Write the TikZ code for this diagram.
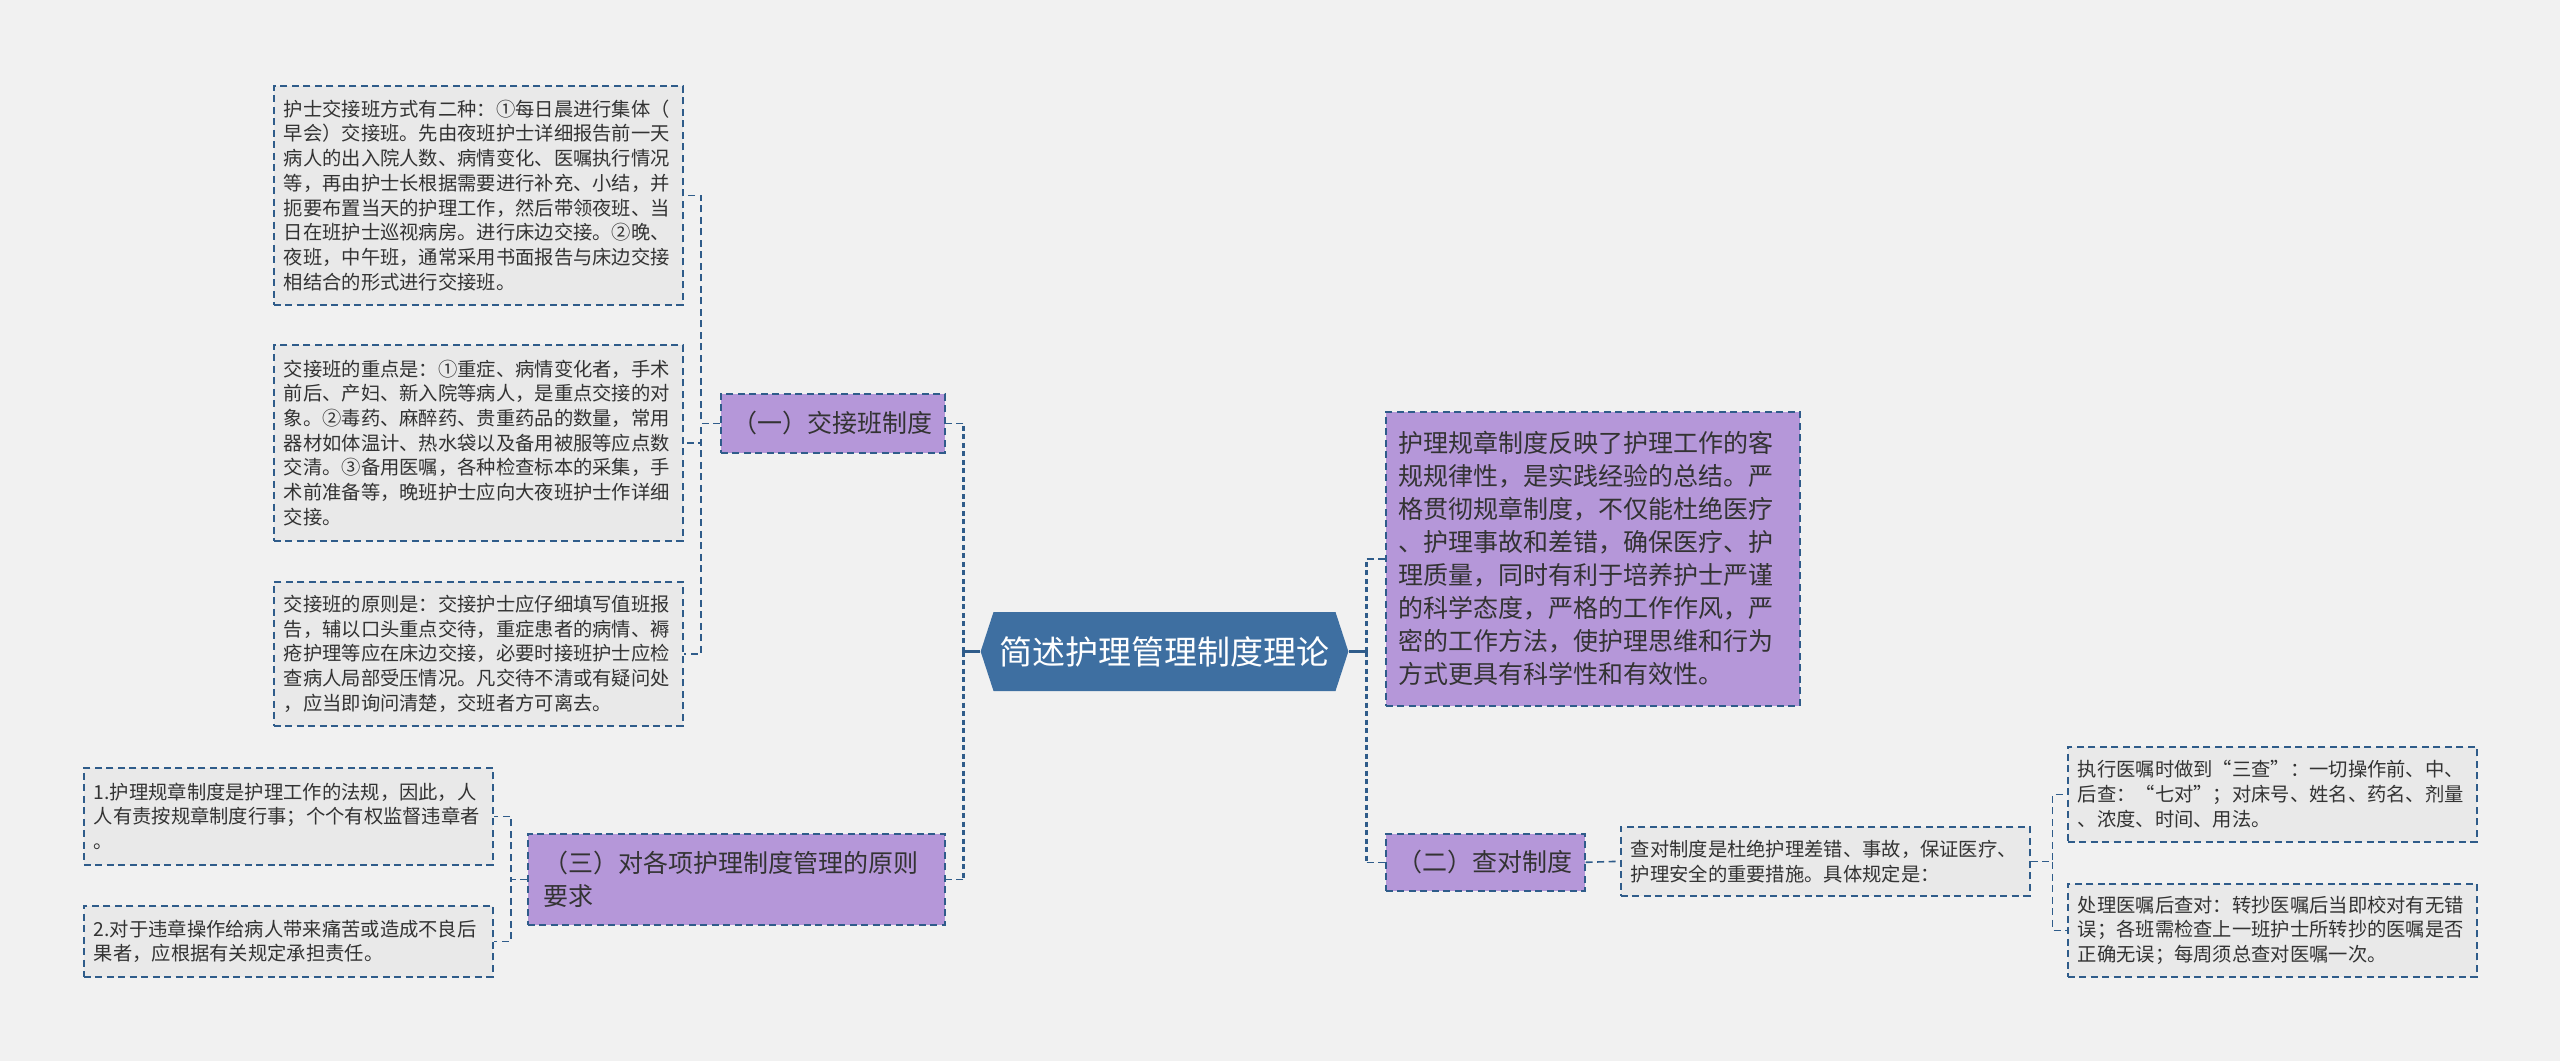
\documentclass[tikz,border=0pt]{standalone}
\usepackage{xcolor}
\usepackage{fontspec}
\setmainfont{Noto Sans CJK SC}
\usepackage{tikz}
\usetikzlibrary{shapes,shapes.symbols,calc,positioning}

\definecolor{bgcol}{RGB}{241,241,241}
\definecolor{linkblue}{RGB}{47,92,138}
\definecolor{rootblue}{RGB}{62,111,161}
\definecolor{lilac}{RGB}{181,151,217}
\definecolor{boxgray}{RGB}{233,233,233}
\definecolor{inkgray}{RGB}{51,51,51}

\begin{document}
\begin{tikzpicture}[x=1pt, y=-1pt,
    boxline/.style={draw=linkblue, line width=1.6pt, dash pattern=on 7pt off 4.5pt},
    leaf/.style={boxline, fill=boxgray, text=inkgray, anchor=north west, align=left,
        inner xsep=10pt, text width=389pt, font=\fontsize{19.3}{24.7}\selectfont},
    topic/.style={boxline, fill=lilac, text=inkgray, anchor=north west,
        font=\fontsize{25}{33}\selectfont},
    rootline/.style={draw=linkblue, line width=2.8pt},
    trunk/.style={draw=linkblue, line width=2.8pt, dash pattern=on 5pt off 3.5pt},
    twig/.style={draw=linkblue, line width=1.6pt, dash pattern=on 7pt off 4.5pt}]

    \fill[bgcol] (0,0) rectangle (2560,1061);

    % centre
    \node[signal, signal to=west and east, signal pointer angle=144, fill=rootblue,
        text=white, font=\fontsize{33}{40}\selectfont, minimum height=79pt,
        inner xsep=6pt] (root) at (1164.5,651.5) {简述护理管理制度理论};

    % left side
    \node[topic, minimum width=224pt, minimum height=59pt] (handsys) at (720,393) {（一）交接班制度};
    \node[topic, align=left, text width=385pt, inner xsep=16pt, minimum height=91pt] (rulesys) at (527,833)
        {（三）对各项护理制度管理的原则\\要求};

    \node[leaf, minimum height=219pt] (modes) at (273,85) {护士交接班方式有二种：①每日晨进行集体（\\
        早会）交接班。先由夜班护士详细报告前一天\\
        病人的出入院人数、病情变化、医嘱执行情况\\
        等，再由护士长根据需要进行补充、小结，并\\
        扼要布置当天的护理工作，然后带领夜班、当\\
        日在班护士巡视病房。进行床边交接。②晚、\\
        夜班，中午班，通常采用书面报告与床边交接\\
        相结合的形式进行交接班。};
    \node[leaf, minimum height=196pt] (keypts) at (273,344) {交接班的重点是：①重症、病情变化者，手术\\
        前后、产妇、新入院等病人，是重点交接的对\\
        象。②毒药、麻醉药、贵重药品的数量，常用\\
        器材如体温计、热水袋以及备用被服等应点数\\
        交清。③备用医嘱，各种检查标本的采集，手\\
        术前准备等，晚班护士应向大夜班护士作详细\\
        交接。};
    \node[leaf, minimum height=144pt] (princ) at (273,581) {交接班的原则是：交接护士应仔细填写值班报\\
        告，辅以口头重点交待，重症患者的病情、褥\\
        疮护理等应在床边交接，必要时接班护士应检\\
        查病人局部受压情况。凡交待不清或有疑问处\\
        ，应当即询问清楚，交班者方可离去。};
    \node[leaf, minimum height=97pt] (rule1) at (83,767) {1.护理规章制度是护理工作的法规，因此，人\\
        人有责按规章制度行事；个个有权监督违章者\\
        。};
    \node[leaf, minimum height=71pt] (rule2) at (83,905) {2.对于违章操作给病人带来痛苦或造成不良后\\
        果者，应根据有关规定承担责任。};

    % right side
    \node[topic, align=left, text width=388pt, inner xsep=13pt, minimum height=294pt] (essence) at (1385,411)
        {护理规章制度反映了护理工作的客\\
        规规律性，是实践经验的总结。严\\
        格贯彻规章制度，不仅能杜绝医疗\\
        、护理事故和差错，确保医疗、护\\
        理质量，同时有利于培养护士严谨\\
        的科学态度，严格的工作作风，严\\
        密的工作方法，使护理思维和行为\\
        方式更具有科学性和有效性。};
    \node[topic, minimum width=199pt, minimum height=57pt] (checksys) at (1385,833) {（二）查对制度};
    \node[leaf, minimum height=69pt] (checkdef) at (1620,826) {查对制度是杜绝护理差错、事故，保证医疗、\\
        护理安全的重要措施。具体规定是：};
    \node[leaf, minimum height=95pt] (orderexec) at (2067,746) {执行医嘱时做到“三查”：一切操作前、中、\\
        后查：“七对”；对床号、姓名、药名、剂量\\
        、浓度、时间、用法。};
    \node[leaf, minimum height=93pt] (orderproc) at (2067,883) {处理医嘱后查对：转抄医嘱后当即校对有无错\\
        误；各班需检查上一班护士所转抄的医嘱是否\\
        正确无误；每周须总查对医嘱一次。};

    % connectors
    \coordinate (lhub) at ($(root.west)+(-17,0)$);
    \coordinate (rhub) at ($(root.east)+(18,0)$);
    \draw[rootline] (root.west) -- (lhub);
    \draw[rootline] (root.east) -- (rhub);
    \draw[trunk] (lhub) -- (lhub |- handsys.east);
    \draw[trunk] (lhub) -- (lhub |- rulesys.east);
    \draw[trunk] (rhub) -- (rhub |- essence.west);
    \draw[trunk] (rhub) -- (rhub |- checksys.west);
    \draw[twig] (lhub |- handsys.east) -- (handsys.east);
    \draw[twig] (lhub |- rulesys.east) -- (rulesys.east);
    \draw[twig] (rhub |- essence.west) -- (essence.west);
    \draw[twig] (rhub |- checksys.west) -- (checksys.west);

    \draw[twig] (handsys.west) -- ++(-19,0) |- (modes.east);
    \draw[twig] (handsys.west) -- ++(-19,0) |- (keypts.east);
    \draw[twig] (handsys.west) -- ++(-19,0) |- (princ.east);
    \draw[twig] (rulesys.west) -- ++(-16,0) |- (rule1.east);
    \draw[twig] (rulesys.west) -- ++(-16,0) |- (rule2.east);
    \draw[twig] (checksys.east) -- (checkdef.west);
    \draw[twig] (checkdef.east) -- ++(22,0) |- (orderexec.west);
    \draw[twig] (checkdef.east) -- ++(22,0) |- (orderproc.west);
\end{tikzpicture}
\end{document}
